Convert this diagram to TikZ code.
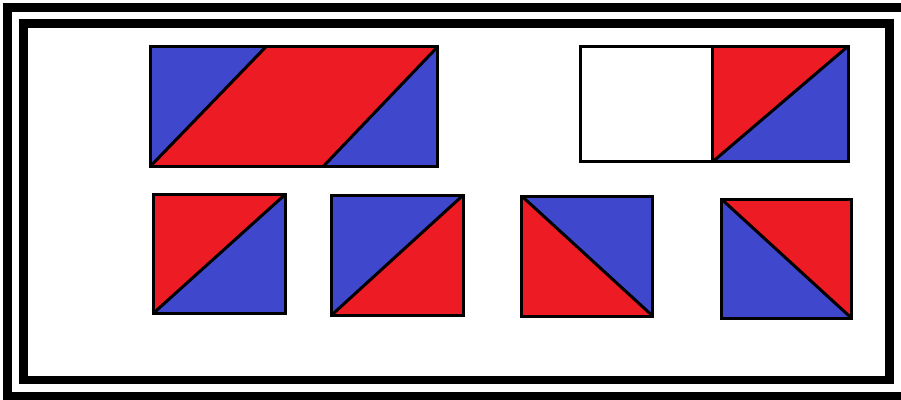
\documentclass[tikz,border=0pt]{standalone}
\usetikzlibrary{calc}
\definecolor{paintred}{RGB}{237,28,36}
\definecolor{paintblue}{RGB}{63,72,204}

\begin{document}
\begin{tikzpicture}[
    x=0.02cm, y=-0.02cm,
    frame/.style={draw, line width=0.175cm},
    edge/.style={draw, line width=0.06cm, line join=miter},
    redpart/.style={fill=paintred},
    bluepart/.style={fill=paintblue}
]
\useasboundingbox (0,0) rectangle (901,399);

% double frame (outer one runs off the page on the right and bottom)
\draw[frame] (7.5,7.5) rectangle (912,396.5);
\draw[frame] (23.5,23.2) rectangle (889.5,380);

% long strip with the parallelogram
\coordinate (pTL) at (150,46.7);
\coordinate (pBR) at (437.7,166.7);
\coordinate (pTM) at (266,46.7);
\coordinate (pBM) at (323,166.7);
\fill[bluepart] (pTL) rectangle (pBR);
\fill[redpart] (pTL |- pBR) -- (pTM) -- (pBR |- pTL) -- (pBM) -- cycle;
\draw[edge] (pTL) rectangle (pBR);
\draw[edge] (pTL |- pBR) -- (pTM);
\draw[edge] (pBM) -- (pBR |- pTL);

% empty square next to a split one
\coordinate (wTL) at (580,46);
\coordinate (wBR) at (712.7,161.7);
\coordinate (hBR) at (848.3,161.7);
\fill[redpart] (wBR) -- (wBR |- wTL) -- (hBR |- wTL) -- cycle;
\fill[bluepart] (wBR) -- (hBR) -- (hBR |- wTL) -- cycle;
\draw[edge] (wTL) rectangle (wBR);
\draw[edge] (wBR |- wTL) rectangle (hBR);
\draw[edge] (wBR) -- (hBR |- wTL);

% four tiles
\coordinate (s1TL) at (153.3,194);
\coordinate (s1BR) at (285.7,313.3);
\fill[redpart] (s1TL |- s1BR) -- (s1TL) -- (s1BR |- s1TL) -- cycle;
\fill[bluepart] (s1TL |- s1BR) -- (s1BR) -- (s1BR |- s1TL) -- cycle;
\draw[edge] (s1TL) rectangle (s1BR);
\draw[edge] (s1TL |- s1BR) -- (s1BR |- s1TL);

\coordinate (s2TL) at (331.7,195);
\coordinate (s2BR) at (463.3,315);
\fill[bluepart] (s2TL |- s2BR) -- (s2TL) -- (s2BR |- s2TL) -- cycle;
\fill[redpart] (s2TL |- s2BR) -- (s2BR) -- (s2BR |- s2TL) -- cycle;
\draw[edge] (s2TL) rectangle (s2BR);
\draw[edge] (s2TL |- s2BR) -- (s2BR |- s2TL);

\coordinate (s3TL) at (521.7,196);
\coordinate (s3BR) at (652.7,316);
\fill[redpart] (s3TL) -- (s3TL |- s3BR) -- (s3BR) -- cycle;
\fill[bluepart] (s3TL) -- (s3BR |- s3TL) -- (s3BR) -- cycle;
\draw[edge] (s3TL) rectangle (s3BR);
\draw[edge] (s3TL) -- (s3BR);

\coordinate (s4TL) at (721.7,199.3);
\coordinate (s4BR) at (851.7,318.3);
\fill[bluepart] (s4TL) -- (s4TL |- s4BR) -- (s4BR) -- cycle;
\fill[redpart] (s4TL) -- (s4BR |- s4TL) -- (s4BR) -- cycle;
\draw[edge] (s4TL) rectangle (s4BR);
\draw[edge] (s4TL) -- (s4BR);
\end{tikzpicture}
\end{document}
